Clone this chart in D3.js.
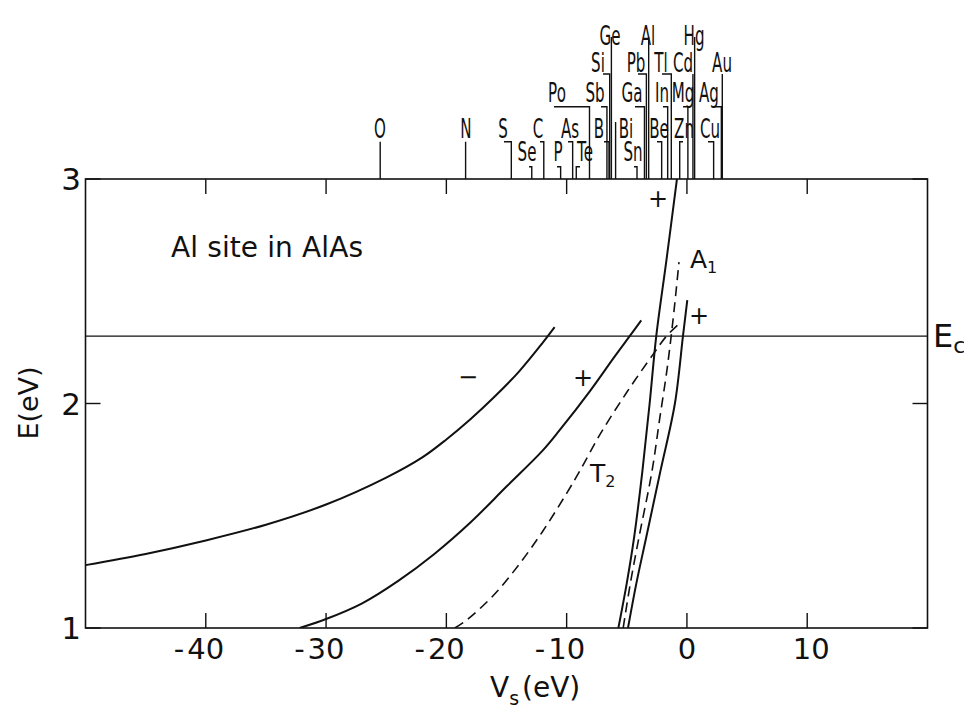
<!DOCTYPE html>
<html><head><meta charset="utf-8">
<script src="https://cdn.jsdelivr.net/npm/d3@7"></script>
<style>body{margin:0;background:#fff}svg{display:block}text{font-family:"DejaVu Sans",sans-serif;fill:#111}</style>
</head><body><svg id="c" width="964" height="710"></svg>
<script>
// ---------- data ----------
const xTicks = [-40, -30, -20, -10, 0, 10];
const yTicks = [1, 2, 3];
const yLabelTicks = [1, 2, 3];
const EcLevel = 2.3;

// T2 (-) solid
const t2MinusV = [-50, -45, -40, -35, -30, -25, -22, -20, -18, -16, -14, -12, -11];
const t2MinusE = [1.28, 1.33, 1.39, 1.46, 1.55, 1.67, 1.76, 1.84, 1.93, 2.03, 2.14, 2.27, 2.34];
// T2 (+) solid
const t2PlusV = [-32.2, -30, -27, -24, -21, -18, -15, -12, -10.6, -8, -6, -4.76, -3.8];
const t2PlusE = [1.0, 1.04, 1.11, 1.21, 1.33, 1.47, 1.63, 1.79, 1.88, 2.06, 2.21, 2.30, 2.37];
// T2 dashed
const t2DashV = [-19.3, -18.3, -16, -14, -12, -10, -8.9, -7.25, -5, -2.8, -1.7, -0.55];
const t2DashE = [1.0, 1.036, 1.15, 1.28, 1.43, 1.60, 1.70, 1.86, 2.05, 2.22, 2.30, 2.36];
// A1 (+) steep solid, left
const a1PlusLV = [-5.7, -5.0, -4.4, -3.7, -3.1, -2.55, -1.7, -0.83];
const a1PlusLE = [1.0, 1.2, 1.4, 1.7, 2.0, 2.3, 2.64, 3.0];
// A1 dashed
const a1DashV = [-5.3, -4.7, -4.0, -2.9, -2.27, -1.66, -1.16, -0.66];
const a1DashE = [1.0, 1.2, 1.4, 1.7, 1.93, 2.15, 2.37, 2.63];
// A1 (+) steep solid, right
const a1PlusRV = [-4.9, -4.2, -3.4, -2.2, -1.0, -0.33, 0.03];
const a1PlusRE = [1.0, 1.2, 1.4, 1.7, 2.0, 2.3, 2.46];

// impurity s-potentials along the top axis
const elemNames = ["O","N","S","Se","C","P","As","Te","Po","Sb","B","Si","Ge","Bi","Sn","Ga","Pb","Al","Be","In","Tl","Zn","Mg","Cd","Hg","Ag","Au","Cu"];
const elemVs    = [-25.5,-18.4,-14.6,-12.9,-11.9,-10.5,-9.5,-9.2,-8.1,-6.65,-6.48,-6.42,-6.28,-5.93,-4.15,-3.53,-3.37,-3.18,-2.1,-1.6,-1.3,-0.6,0.08,0.5,0.64,2.86,2.94,2.22];

// ---------- layout (label placement of element names) ----------
// [row, label centre x (px), bracket start x (px) or null for a plain vertical]
const elemLayout = [
 [4,380,null],[4,466,null],[4,503,504],[5,527,529],[4,538,540],[5,558,557],[4,570,568],[5,585,580],
 [3,557,554],[3,595,601],[4,599,604],[2,598,603],[1,610,null],[4,626,null],[5,633,634],[3,632,635],
 [2,636,638],[1,648,null],[4,659,657],[3,662,663],[2,661,662],[4,684,683],[3,683,683],[2,683,null],
 [1,694,null],[3,709,713],[2,722,null],[4,710,708]
];
const rowBase = {1:45, 2:72, 3:102, 4:138, 5:161};
const rowBracket = {1:37, 2:74, 3:106.7, 4:141.7, 5:166.7};

// ---------- chart ----------
const svg = d3.select("#c");
const L = 85.5, R = 927.5, T = 179, B = 628;
const x = d3.scaleLinear().domain([-50, 20]).range([L, R]);
const y = d3.scaleLinear().domain([1, 3]).range([B, T]);

const line = d3.line().x(d => x(d[0])).y(d => y(d[1])).curve(d3.curveCatmullRom.alpha(0.5));
const zip = (a, b) => a.map((v, i) => [v, b[i]]);

// frame
svg.append("rect").attr("x", L).attr("y", T).attr("width", R - L).attr("height", B - T)
  .attr("fill", "none").attr("stroke", "#111").attr("stroke-width", 1.6);

// ticks (inward)
const tk = 15;
xTicks.forEach(v => {
  svg.append("line").attr("x1", x(v)).attr("x2", x(v)).attr("y1", B).attr("y2", B - tk).attr("stroke", "#111").attr("stroke-width", 1.4);
  svg.append("line").attr("x1", x(v)).attr("x2", x(v)).attr("y1", T).attr("y2", T + tk).attr("stroke", "#111").attr("stroke-width", 1.4);
});
yTicks.forEach(v => {
  svg.append("line").attr("x1", L).attr("x2", L + tk).attr("y1", y(v)).attr("y2", y(v)).attr("stroke", "#111").attr("stroke-width", 1.4);
  svg.append("line").attr("x1", R).attr("x2", R - tk).attr("y1", y(v)).attr("y2", y(v)).attr("stroke", "#111").attr("stroke-width", 1.4);
});

// x tick labels: digits centred on tick, minus hanging to the left
xTicks.forEach(v => {
  const t = svg.append("text").attr("x", x(v) + (v === 10 ? 4 : 0)).attr("y", 659)
    .attr("text-anchor", "middle").attr("font-size", 29).text(Math.abs(v));
  if (v < 0) {
    const w = t.node().getComputedTextLength();
    svg.append("text").attr("x", x(v) - w / 2 - 3).attr("y", 659)
      .attr("text-anchor", "end").attr("font-size", 29).text("-");
  }
});
// y tick labels
yLabelTicks.forEach(v => {
  svg.append("text").attr("x", 81).attr("y", y(v) + 11).attr("text-anchor", "end")
    .attr("font-size", 31).text(v);
});

// Ec line
svg.append("line").attr("x1", L).attr("x2", R).attr("y1", y(EcLevel)).attr("y2", y(EcLevel))
  .attr("stroke", "#111").attr("stroke-width", 1.2);

// curves
const solid = [[t2MinusV, t2MinusE], [t2PlusV, t2PlusE], [a1PlusLV, a1PlusLE], [a1PlusRV, a1PlusRE]];
const dashed = [[t2DashV, t2DashE], [a1DashV, a1DashE]];
svg.append("clipPath").attr("id", "pc").append("rect").attr("x", L).attr("y", T).attr("width", R - L).attr("height", B - T);
const g = svg.append("g").attr("clip-path", "url(#pc)");
solid.forEach(([vx, vy]) => g.append("path").attr("d", line(zip(vx, vy))).attr("fill", "none").attr("stroke", "#111").attr("stroke-width", 2));
dashed.forEach(([vx, vy]) => g.append("path").attr("d", line(zip(vx, vy))).attr("fill", "none").attr("stroke", "#111").attr("stroke-width", 1.6).attr("stroke-dasharray", "10,6"));

// element markers along top axis
elemNames.forEach((name, i) => {
  const [row, cx, hx] = elemLayout[i];
  const xv = x(elemVs[i]);
  const by = rowBracket[row];
  let d;
  if (hx === null) d = `M${xv},${name === "Bi" ? 122 : by}V${T}`;
  else d = `M${hx},${by}H${xv}V${T}`;
  svg.append("path").attr("d", d).attr("fill", "none").attr("stroke", "#111").attr("stroke-width", 1.4);
  svg.append("text").attr("transform", `translate(${cx},${rowBase[row]}) scale(0.58,1)`)
    .attr("text-anchor", "middle").attr("font-size", 26).text(name);
});

// annotations
svg.append("text").attr("x", 171).attr("y", 257).attr("font-size", 28).attr("textLength", 192).text("Al site in AlAs");
const sub = (xx, yy, main, s, fs, sfs, dy) => {
  const t = svg.append("text").attr("x", xx).attr("y", yy).attr("font-size", fs);
  t.append("tspan").text(main);
  t.append("tspan").attr("font-size", sfs).attr("dy", dy).text(s);
};
sub(933, 347, "E", "c", 32, 22, 6);
sub(690, 268, "A", "1", 25, 16, 5);
sub(590, 482, "T", "2", 25, 16, 5);
svg.append("text").attr("x", 583).attr("y", 386).attr("text-anchor", "middle").attr("font-size", 24).text("+");
svg.append("text").attr("x", 658).attr("y", 207).attr("text-anchor", "middle").attr("font-size", 24).text("+");
svg.append("text").attr("x", 699).attr("y", 324).attr("text-anchor", "middle").attr("font-size", 24).text("+");
svg.append("text").attr("x", 468).attr("y", 385).attr("text-anchor", "middle").attr("font-size", 24).text("−");

// axis titles
sub(490, 697, "V", "s", 28, 19, 8);
svg.append("text").attr("x", 522).attr("y", 697).attr("font-size", 28).text("(eV)");
svg.append("text").attr("transform", "translate(38,403) rotate(-90)").attr("text-anchor", "middle")
  .attr("font-size", 27).text("E(eV)");
</script></body></html>
